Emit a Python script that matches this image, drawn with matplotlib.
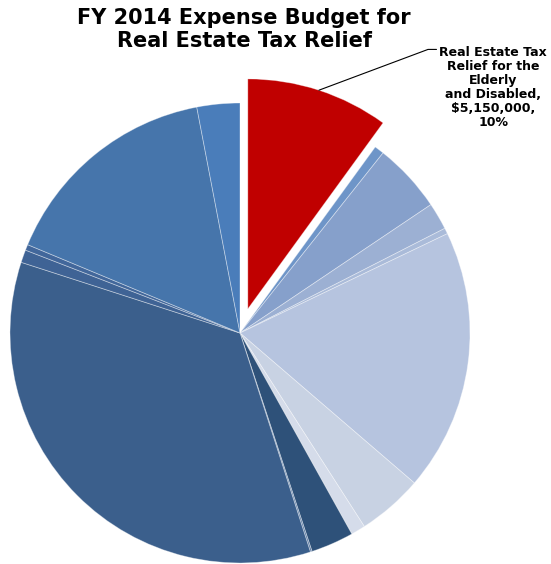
import matplotlib
import matplotlib.pyplot as plt
import numpy as np

matplotlib.use('Agg')

# FY 2014 expense budget lines, clockwise from the top (dollars)
budget = [5150000, 350000, 2520000, 980000, 210000, 9480000, 2370000, 520000,
          1550000, 60000, 17980000, 460000, 210000, 8090000, 1550000]
colors = ['#c00000', '#6e95c8', '#86a0cb', '#9cb0d3', '#aabbd9', '#b6c4df',
          '#c8d2e3', '#d5dcea', '#2e5179', '#5a7aa4', '#3b5f8c', '#3f6395',
          '#42679b', '#4675ab', '#4a7dba']
highlight = 0
highlight_label = 'Real Estate Tax\nRelief for the\nElderly\nand Disabled,\n${:,},\n{:.0f}%'

fig = plt.figure(figsize=(5.51, 5.64), dpi=100)
ax = fig.add_axes([0, 0, 1, 1])

explode = [0.11 if i == highlight else 0 for i in range(len(budget))]
wedges, _ = ax.pie(budget, colors=colors, explode=explode, startangle=90,
                   counterclock=False, radius=1,
                   wedgeprops={'edgecolor': (1, 1, 1, 0.4), 'linewidth': 0.6})

ax.set_xlim(-240 / 230, 311 / 230)
ax.set_ylim(-231 / 230, 333 / 230)
ax.set_aspect('auto')
ax.axis('off')

fig.text(0.443, 0.986, 'FY 2014 Expense Budget for\nReal Estate Tax Relief',
         ha='center', va='top', fontsize=15, fontweight='bold',
         linespacing=1.18)

# leader line from the middle of the highlighted arc to its label,
# ending in a short horizontal tick next to the text
w = wedges[highlight]
mid = np.deg2rad((w.theta1 + w.theta2) / 2)
cx, cy = w.center
start = (cx + w.r * np.cos(mid), cy + w.r * np.sin(mid))
share = budget[highlight] / sum(budget) * 100
ax.annotate(highlight_label.format(budget[highlight], share),
            xy=start, xytext=(0.895, 0.919), textcoords='figure fraction',
            ha='center', va='top', fontsize=9, fontweight='bold',
            linespacing=1.1,
            arrowprops={'arrowstyle': '-', 'color': 'black', 'lw': 0.8,
                        'shrinkA': 0, 'shrinkB': 0,
                        'relpos': (-0.01, 0.955),
                        'connectionstyle': 'angle,angleA=180,angleB=20.5,rad=0'})

plt.savefig('out.png', dpi=100)
plt.close(fig)
